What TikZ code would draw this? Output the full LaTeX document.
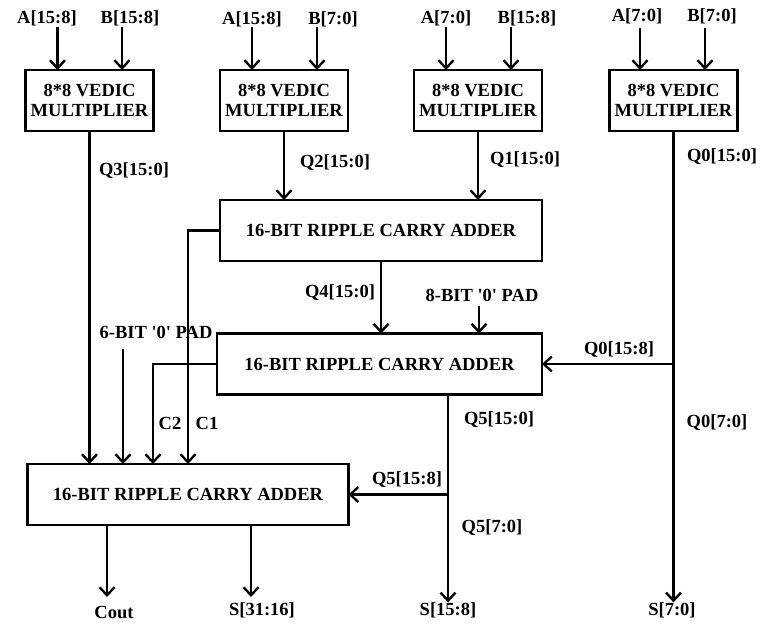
\documentclass[tikz,border=0pt]{standalone}
\usepackage{fontspec}
\setmainfont{Liberation Serif}
\usetikzlibrary{positioning,arrows.meta}
\newcommand\zpad[1]{#1-BIT \textquotesingle0\textquotesingle{} PAD}

\begin{document}
\begin{tikzpicture}[x=1pt,y=-1pt,line width=2.4pt,
  every node/.style={inner sep=0pt, outer sep=0pt, font=\bfseries\fontsize{18.5}{20}\selectfont},
  blk/.style={draw, align=center, minimum height=61pt},
  mult/.style={blk, minimum width=128pt},
  rca/.style={blk, minimum width=322pt},
  arr/.style={-{Straight Barb[length=8pt,width=15pt]}}]
  \useasboundingbox (0,0) rectangle (762,626);
  % multipliers
  \node[mult] (m3) at (89.5,100.5) {8*8 VEDIC\\MULTIPLIER};
  \node[mult] (m2) at (284,100.5) {8*8 VEDIC\\MULTIPLIER};
  \node[mult] (m1) at (478,100.5) {8*8 VEDIC\\MULTIPLIER};
  \node[mult] (m0) at (673.5,100.5) {8*8 VEDIC\\MULTIPLIER};
  % adders
  \node[rca] (a1) at (381,230.5) {16-BIT RIPPLE CARRY ADDER};
  \node[rca, minimum width=325pt] (a2) at (379.5,364) {16-BIT RIPPLE CARRY ADDER};
  \node[rca, minimum width=321pt] (a3) at (188,494.5) {16-BIT RIPPLE CARRY ADDER};
  % inputs
  \node (ia3) at (47,18) {A[15:8]};
  \node (ib3) at (130,18) {B[15:8]};
  \node (ia2) at (252,19) {A[15:8]};
  \node (ib2) at (333,19) {B[7:0]};
  \node (ia1) at (446,18) {A[7:0]};
  \node (ib1) at (527,18) {B[15:8]};
  \node (ia0) at (637,16) {A[7:0]};
  \node (ib0) at (712,16) {B[7:0]};
  \coordinate (ta3) at (57.5,27);
  \coordinate (tb3) at (122,27);
  \coordinate (ta2) at (252,27);
  \coordinate (tb2) at (317,27);
  \coordinate (ta1) at (446,27);
  \coordinate (tb1) at (511,27);
  \coordinate (ta0) at (640,28);
  \coordinate (tb0) at (705,28);
  \foreach \t in {a3,b3,a2,b2,a1,b1,a0,b0}
    \draw[arr] (t\t) -- (t\t |- m3.north);
  % outputs
  \node (s3) at (114,612) {Cout};
  \node (s2) at (262,610) {S[31:16]};
  \node (s1) at (448,610) {S[15:8]};
  \node (s0) at (672,610) {S[7:0]};
  \coordinate (co) at (107,597);
  \coordinate (ch) at (251,597);
  % pads
  \node (p6) at (156,332) {\zpad6};
  \node (p8) at (482,295) {\zpad8};
  \coordinate (t6) at (123,349);
  \coordinate (t8) at (479,306);
  % junctions
  \coordinate (j0) at (m0.south |- a2.east);
  \coordinate (j5) at (448,494.5);
  % bus labels
  \node (q3) at (134,171) {Q3[15:0]};
  \node (q2) at (335,163) {Q2[15:0]};
  \node (q1) at (525,160) {Q1[15:0]};
  \node (q0) at (722,157) {Q0[15:0]};
  \node (q4) at (340,293) {Q4[15:0]};
  \node (q0h) at (619,350) {Q0[15:8]};
  \node (q0l) at (717,423) {Q0[7:0]};
  \node (q5) at (499,420) {Q5[15:0]};
  \node (q5h) at (407,480) {Q5[15:8]};
  \node (q5l) at (492,528) {Q5[7:0]};
  \node (c2) at (170,423) {C2};
  \node (c1) at (207,423) {C1};
  % connections
  \draw[arr] (m3.south) -- (m3.south |- a3.north);
  \draw[arr] (m2.south) -- (m2.south |- a1.north);
  \draw[arr] (m1.south) -- (m1.south |- a1.north);
  \draw (m0.south) -- (j0);
  \draw[arr] (j0) -- (a2.east);
  \draw[arr] (j0) -- (s0.north -| j0);
  \draw[arr] (a1.south) -- (a1.south |- a2.north);
  \draw[arr] (t8) -- (t8 |- a2.north);
  \draw[arr] (a1.west) -| (a3.north);
  \draw[arr] (a2.west) -| ([xshift=-35pt]a3.north);
  \draw[arr] (t6) -- (t6 |- a3.north);
  \draw (j5 |- a2.south) -- (j5);
  \draw[arr] (j5) -- (a3.east);
  \draw[arr] (j5) -- (s1.north);
  \draw[arr] (co |- a3.south) -- (co);
  \draw[arr] (ch |- a3.south) -- (ch);
\end{tikzpicture}
\end{document}
